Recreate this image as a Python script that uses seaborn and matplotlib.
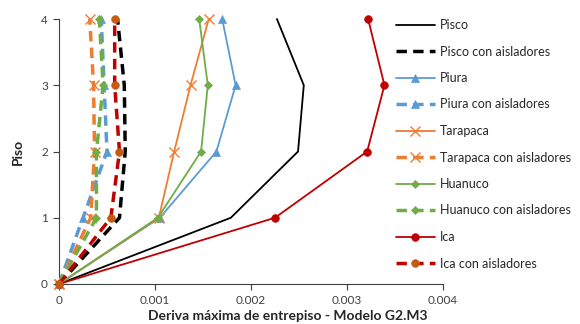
import matplotlib
matplotlib.use("Agg")
import matplotlib.pyplot as plt
import seaborn as sns
import pandas as pd

pisos = [0, 1, 2, 3, 4]
pisco = [0, 0.00179, 0.00249, 0.00255, 0.00227]
pisco_ais = [0, 0.00063, 0.00069, 0.00068, 0.00061]
piura = [0, 0.00105, 0.00164, 0.00184, 0.00170]
piura_ais = [0, 0.00025, 0.00050, 0.00047, 0.00044]
tarapaca = [0, 0.00104, 0.00120, 0.00137, 0.00156]
tarapaca_ais = [0, 0.00033, 0.00037, 0.00036, 0.00032]
huanuco = [0, 0.00103, 0.00148, 0.00155, 0.00146]
huanuco_ais = [0, 0.00039, 0.00039, 0.00046, 0.00042]
ica = [0, 0.00225, 0.00321, 0.00339, 0.00322]
ica_ais = [0, 0.00054, 0.00063, 0.00058, 0.00058]

series = [
    ("Pisco", pisco, "#000000", "#000000", None, False),
    ("Pisco con aisladores", pisco_ais, "#000000", "#000000", None, True),
    ("Piura", piura, "#5B9BD5", "#5B9BD5", "^", False),
    ("Piura con aisladores", piura_ais, "#5B9BD5", "#5B9BD5", "^", True),
    ("Tarapaca", tarapaca, "#ED7D31", "#ED7D31", "x", False),
    ("Tarapaca con aisladores", tarapaca_ais, "#ED7D31", "#ED7D31", "x", True),
    ("Huanuco", huanuco, "#70AD47", "#70AD47", "D", False),
    ("Huanuco con aisladores", huanuco_ais, "#70AD47", "#70AD47", "D", True),
    ("Ica", ica, "#C00000", "#C00000", "o", False),
    ("Ica con aisladores", ica_ais, "#C00000", "#C55A11", "o", True),
]

sns.set_style("white")
plt.rcParams["font.family"] = ["Lato", "DejaVu Sans"]

fig = plt.figure(figsize=(5.8, 3.24), dpi=100)
ax = fig.add_axes([59/580, 1-284/324, (443-59)/580, (284-19)/324])

msize = {None: 0, "^": 6, "x": 7, "D": 4, "o": 5.5}
for name, vals, lc, mc, mk, dashed in series:
    df = pd.DataFrame({"x": vals, "y": pisos})
    sns.lineplot(data=df, x="x", y="y", ax=ax, sort=False, estimator=None,
                 color=lc, lw=2.5 if dashed else 1.3,
                 linestyle=(0, (3, 1.8)) if dashed else "-",
                 marker=mk, markersize=msize[mk], markerfacecolor=mc,
                 markeredgecolor=mc, markeredgewidth=1.0 if mk == "x" else 0.5,
                 label=name, zorder=3, clip_on=False)

ax.set_xlim(0, 0.004)
ax.set_ylim(0, 4)
ax.set_xticks([0, 0.001, 0.002, 0.003, 0.004])
ax.set_xticklabels(["0", "0.001", "0.002", "0.003", "0.004"])
ax.set_yticks([0, 1, 2, 3, 4])
ax.tick_params(axis="both", direction="out", length=4, width=0.8, labelsize=8.5,
               colors="#404040", left=True, bottom=True, pad=4)
ax.tick_params(axis="both", labelcolor="#404040")
for s in ["top", "right"]:
    ax.spines[s].set_visible(False)
for s in ["left", "bottom"]:
    ax.spines[s].set_color("#404040")
    ax.spines[s].set_linewidth(0.8)
ax.set_xlabel("")
ax.set_ylabel("Piso", fontsize=10, fontweight="bold", labelpad=12)
fig.text(288/580, 1-316/324, "Deriva máxima de entrepiso - Modelo G2.M3",
         fontsize=10, fontweight="bold", ha="center", va="center", color="#262626")

h, l = ax.get_legend_handles_labels()
if ax.get_legend():
    ax.get_legend().remove()
fig.legend(h, l, loc="upper left", bbox_to_anchor=(396/580, 1-19/324),
           frameon=False, fontsize=9, handlelength=3.1, labelspacing=1.16,
           handletextpad=0.4, borderaxespad=0, borderpad=0, labelcolor="#262626")
fig.savefig("out.png", dpi=100)
